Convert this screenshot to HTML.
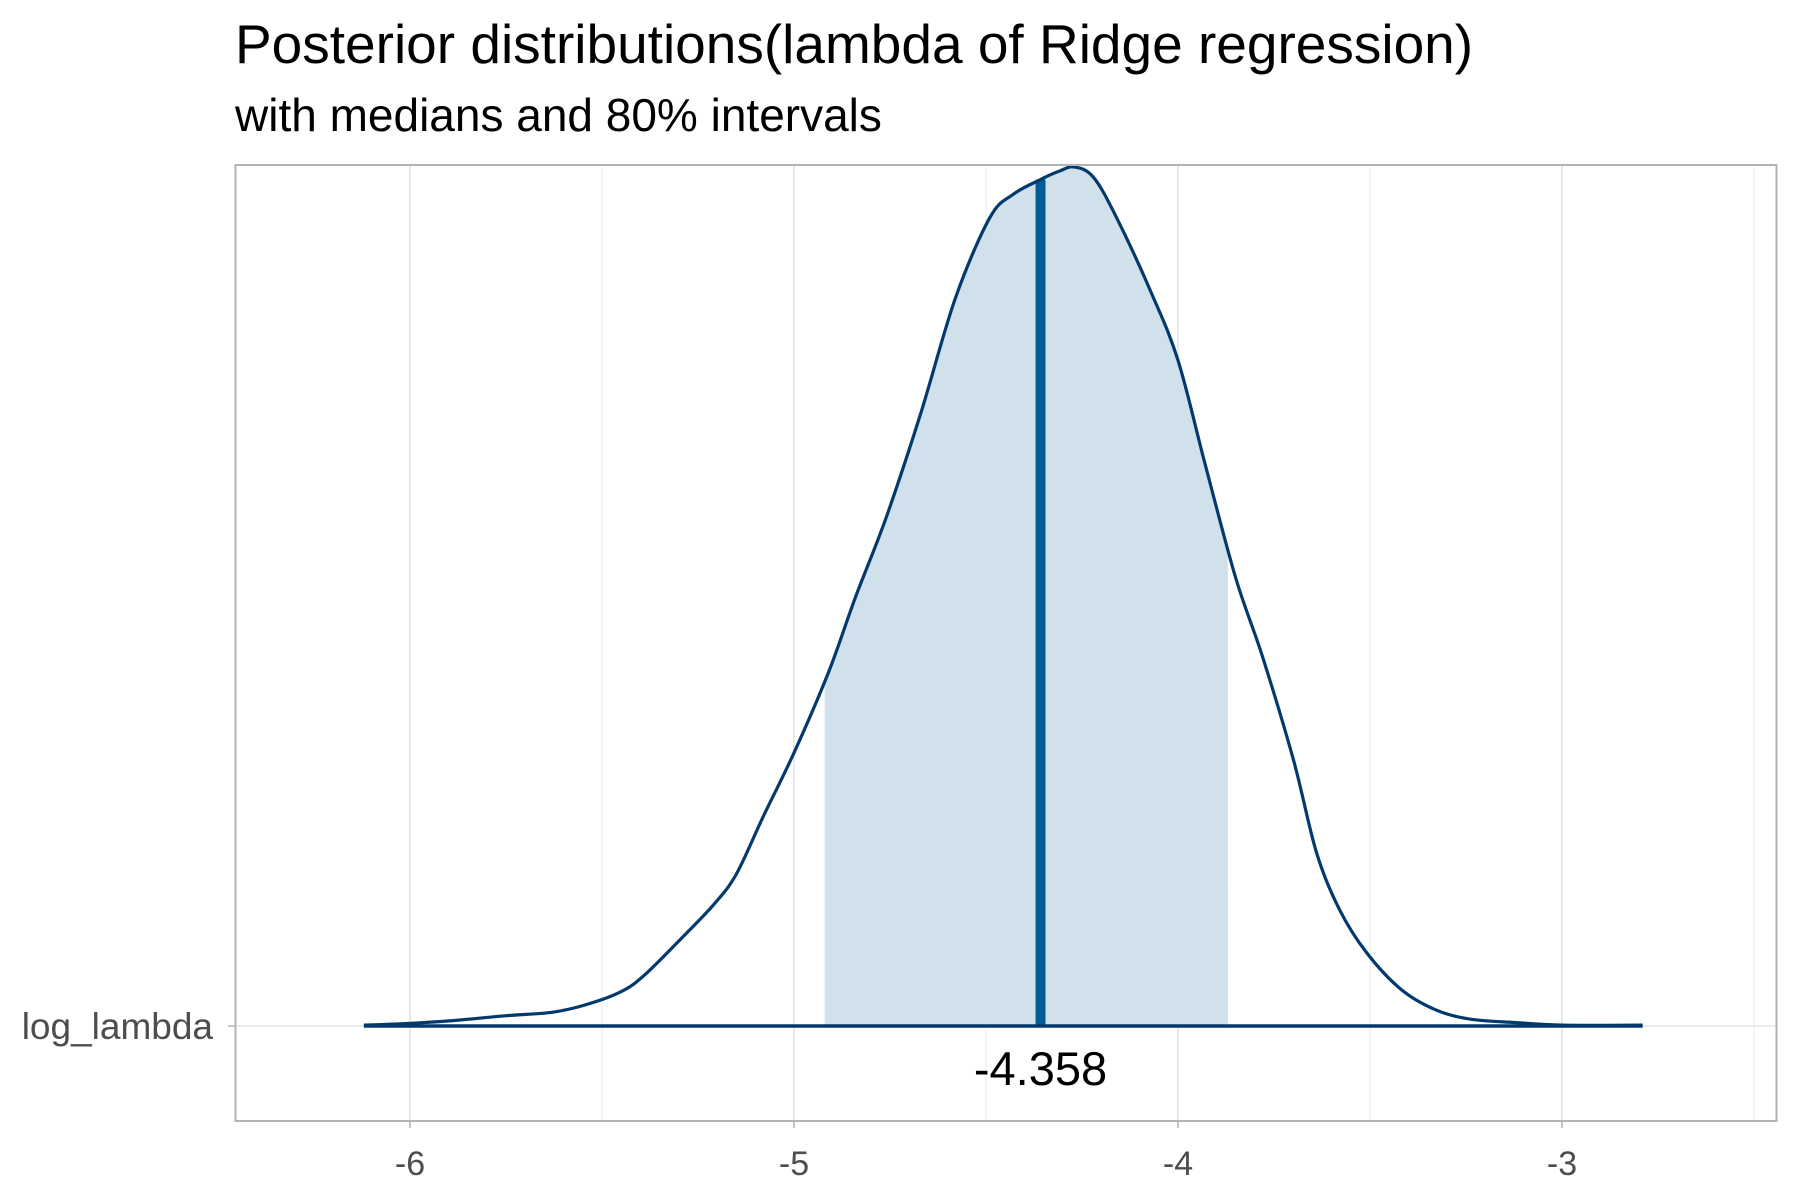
<!DOCTYPE html>
<html><head><meta charset="utf-8"><style>
body{margin:0;background:#fff}
svg{display:block;font-family:"Liberation Sans",Arial,sans-serif}
</style></head><body>
<svg id="chart" width="1800" height="1200" viewBox="0 0 1800 1200">
<defs><clipPath id="pc"><rect x="235.5" y="165" width="1541" height="956"/></clipPath></defs>
<text x="235" y="63" font-size="55" fill="#000">Posterior distributions(lambda of Ridge regression)</text>
<text x="235" y="131" font-size="46" fill="#000">with medians and 80% intervals</text>
<g id="grid" clip-path="url(#pc)"></g>
<g id="plot"></g>
<rect x="235.5" y="165" width="1541" height="956" fill="none" stroke="#b3b3b3" stroke-width="2"/>
<g id="axes"></g>
</svg>
<script>
const xs = [-6.12,-6.0,-5.87,-5.75,-5.63,-5.54,-5.45,-5.39,-5.30,-5.21,-5.15,-5.08,-5.0,-4.91,-4.84,-4.76,-4.67,-4.58,-4.49,-4.43,-4.36,-4.31,-4.27,-4.22,-4.16,-4.07,-4.0,-3.93,-3.85,-3.78,-3.70,-3.64,-3.58,-3.51,-3.42,-3.33,-3.24,-3.12,-3.0,-2.79];
const dens = [0.001,0.003,0.007,0.012,0.016,0.025,0.040,0.059,0.099,0.141,0.177,0.244,0.318,0.412,0.499,0.592,0.713,0.847,0.941,0.968,0.985,0.995,1.0,0.988,0.941,0.854,0.775,0.655,0.522,0.430,0.311,0.203,0.136,0.086,0.043,0.019,0.008,0.004,0.001,0.001];
const xTicks = [-6,-5,-4,-3];
const xMinor = [-6.5,-5.5,-4.5,-3.5,-2.5];
const intervalLo = -4.92, intervalHi = -3.87;
const median = -4.358;
const paramLabel = "log_lambda";

const NS="http://www.w3.org/2000/svg";
const X = v => 410 + (v+6)*384;
const BASE = 1026, TOP = 167;
const Y = d => BASE - d*(BASE-TOP);
function interp(v){
  for(let i=0;i<xs.length-1;i++){ if(v>=xs[i]&&v<=xs[i+1]){const t=(v-xs[i])/(xs[i+1]-xs[i]);return dens[i]+t*(dens[i+1]-dens[i]);} }
  return 0;
}
function smoothPath(p){
  let d='M'+p[0][0].toFixed(1)+','+p[0][1].toFixed(1);
  for(let i=0;i<p.length-1;i++){
    const p0=p[Math.max(0,i-1)],p1=p[i],p2=p[i+1],p3=p[Math.min(p.length-1,i+2)];
    const c1=[p1[0]+(p2[0]-p0[0])/6,p1[1]+(p2[1]-p0[1])/6];
    const c2=[p2[0]-(p3[0]-p1[0])/6,p2[1]-(p3[1]-p1[1])/6];
    d+=' C'+c1.map(n=>n.toFixed(1)).join(',')+' '+c2.map(n=>n.toFixed(1)).join(',')+' '+p2.map(n=>n.toFixed(1)).join(',');
  }
  return d;
}
function mk(tag,attrs,parent){const e=document.createElementNS(NS,tag);for(const k in attrs)e.setAttribute(k,attrs[k]);parent.appendChild(e);return e;}
const grid=document.getElementById('grid'), plot=document.getElementById('plot'), axes=document.getElementById('axes');
xMinor.forEach(v=>{const l=mk('line',{x1:X(v),x2:X(v),y1:165,y2:1121,stroke:'#ececec','stroke-width':1},grid);

});
xTicks.forEach(v=>{const l=mk('line',{x1:X(v),x2:X(v),y1:165,y2:1121,stroke:'#dedede','stroke-width':1.3},grid);

});
const hl=mk('line',{x1:235,x2:1785,y1:BASE,y2:BASE,stroke:'#dedede','stroke-width':1.3},grid);


const allPts=xs.map((v,i)=>[X(v),Y(dens[i])]);
let fp=[[X(intervalLo),Y(interp(intervalLo))]];
xs.forEach((v,i)=>{if(v>intervalLo&&v<intervalHi)fp.push([X(v),Y(dens[i])]);});
fp.push([X(intervalHi),Y(interp(intervalHi))]);
const fd=smoothPath(fp)+' L'+X(intervalHi)+','+BASE+' L'+X(intervalLo)+','+BASE+' Z';
const fill=mk('path',{d:fd,fill:'#d1e1ec'},plot);


const med=mk('line',{x1:X(median),x2:X(median),y1:BASE,y2:Y(interp(median)),stroke:'#005b96','stroke-width':10},plot);


const curve=mk('path',{d:smoothPath(allPts),fill:'none',stroke:'#03396c','stroke-width':3.2,'stroke-linejoin':'round'},plot);


const bl=mk('line',{x1:X(xs[0]),x2:X(xs[xs.length-1]),y1:BASE,y2:BASE,stroke:'#03396c','stroke-width':3.5},plot);


const mt=mk('text',{x:X(median),y:1085,'font-size':47,'text-anchor':'middle',fill:'#000'},plot);
mt.textContent=median.toFixed(3);


xTicks.forEach(v=>{
  const tk=mk('line',{x1:X(v),x2:X(v),y1:1121,y2:1128,stroke:'#b3b3b3','stroke-width':1.5},axes);
  
  
  const t=mk('text',{x:X(v),y:1175,'font-size':34,'text-anchor':'middle',fill:'#4d4d4d'},axes);
  t.textContent=String(v);
  
  
});
const yt=mk('line',{x1:228,x2:235,y1:BASE,y2:BASE,stroke:'#b3b3b3','stroke-width':1.5},axes);


const yl=mk('text',{x:213,y:1039,'font-size':37,'text-anchor':'end',fill:'#4d4d4d'},axes);
yl.textContent=paramLabel;


</script>
</body></html>
